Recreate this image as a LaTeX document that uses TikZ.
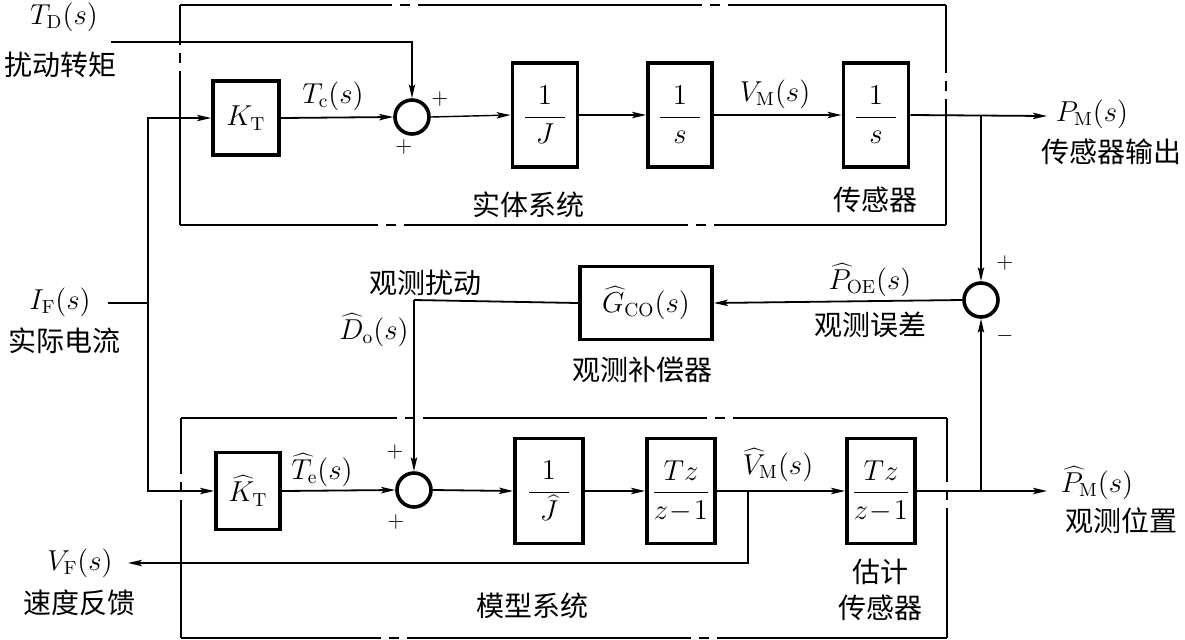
\documentclass[tikz,border=0pt]{standalone}
\usepackage{fontspec}
\newfontfamily\cjk{Noto Sans CJK SC}
\usetikzlibrary{arrows.meta}
\begin{document}
\begin{tikzpicture}[x=0.5pt,y=-0.5pt,
  every node/.style={font=\fontsize{13.5}{16}\selectfont, inner sep=0pt},
  zh/.style={font=\cjk\fontsize{14}{17}\selectfont},
  pm/.style={font=\fontsize{11}{13}\selectfont},
  blk/.style={draw, line width=1.9pt, minimum width=#1},
  conn/.style={line width=0.9pt},
  arr/.style={conn,-{Stealth[length=7pt,width=3.2pt,inset=1.5pt]}},
  sumc/.style={circle, draw, line width=1.8pt, minimum size=17pt, inner sep=0pt},
  dbox/.style={line width=1.1pt, dash pattern=on 142pt off 4pt on 5pt off 4pt},
]
\useasboundingbox (0,0) rectangle (1185,639);

% ---------- dashed enclosures ----------
\draw[dbox, dash phase=36pt]  (180,5) -- (946,5);
\draw[dbox, dash phase=43pt]  (180,225) -- (946,225);
\draw[dbox, dash phase=122pt] (180,5) -- (180,225);
\draw[dbox, dash phase=108pt] (946,5) -- (946,225);

\draw[dbox, dash phase=34pt]  (181,418) -- (947,418);
\draw[dbox, dash phase=42pt]  (181,638) -- (947,638);
\draw[dbox, dash phase=114pt] (181,418) -- (181,638);
\draw[dbox, dash phase=110pt] (947,418) -- (947,638);

% ---------- top row ----------
\node[blk=33pt, minimum height=37pt] (KT) at (246,118) {$K_{\mathrm{T}}$};
\node[sumc] (S1) at (412,117) {};
\node[blk=32.5pt, minimum height=52pt] (J) at (545,115) {$\displaystyle\frac{\makebox[20pt]{$1$}}{J}$};
\node[blk=32pt, minimum height=52pt] (I1) at (680,115) {$\displaystyle\frac{\makebox[20pt]{$1$}}{s}$};
\node[blk=32.5pt, minimum height=52pt] (SE) at (876,115) {$\displaystyle\frac{\makebox[20pt]{$1$}}{s}$};

% ---------- middle ----------
\node[sumc] (S2) at (981,300) {};
\node[blk=66pt, minimum height=36.5pt] (G) at (646,303) {$\widehat{G}_{\mathrm{CO}}(s)$};

% ---------- bottom row ----------
\node[blk=32pt, minimum height=38.5pt] (KTh) at (248,491) {$\widehat{K}_{\mathrm{T}}$};
\node[sumc] (S3) at (414,490) {};
\node[blk=34pt, minimum height=52.5pt] (Jh) at (549,491) {$\displaystyle\frac{\makebox[20pt]{$1$}}{\widehat{J}}$};
\node[blk=34pt, minimum height=52.5pt] (Z1) at (681,491) {$\displaystyle\frac{\makebox[26pt]{$Tz$}}{z\!-\!1}$};
\node[blk=34pt, minimum height=52.5pt] (Z2) at (881,491) {$\displaystyle\frac{\makebox[26pt]{$Tz$}}{z\!-\!1}$};

% ---------- coordinates ----------
\coordinate (TDin) at (111,42);
\coordinate (IFin) at (108,303);
\coordinate (jIF) at (148,303);
\coordinate (br1) at (981,116);
\coordinate (PMout) at (1047,116);
\coordinate (br2) at (981,491);
\coordinate (PMhout) at (1047,491);
\coordinate (br3) at (748,491);
\coordinate (VFout) at (128,563);
\coordinate (Dcorner) at (414,300);

% ---------- connectors ----------
\draw[arr, line width=0.7pt] (TDin) -| (S1.north);
\draw[conn] (IFin) -- (jIF);
\draw[arr] (jIF) |- (KT.west);
\draw[arr] (jIF) |- (KTh.west);
\draw[arr] (KT.east) -- (S1.west);
\draw[arr, line width=0.7pt] (S1.east) -- (J.west);
\draw[arr] (J.east) -- (I1.west);
\draw[arr] (I1.east) -- (SE.west);
\draw[arr] (SE.east) -- (PMout);
\draw[arr] (br1) -- (S2.north);
\draw[arr] (S2.west) -- (G.east);
\draw[conn] (G.west) -- (Dcorner);
\draw[arr] (Dcorner) -- (S3.north);
\draw[arr] (KTh.east) -- (S3.west);
\draw[arr] (S3.east) -- (Jh.west);
\draw[arr] (Jh.east) -- (Z1.west);
\draw[arr] (Z1.east) -- (Z2.west);
\draw[arr] (Z2.east) -- (PMhout);
\draw[arr, line width=0.7pt] (br2) -- (S2.south);
\draw[arr] (br3) |- (VFout);

% ---------- labels ----------
\node (lTD) at (64,17) {$T_{\mathrm{D}}(s)$};
\node[zh] (lTDz) at (60,65) {扰动转矩};
\node (lTc) at (333,96) {$T_{\mathrm{c}}(s)$};
\node[pm] (p1) at (440,99) {$+$};
\node[pm] (p2) at (404,147) {$+$};
\node (lVM) at (775,94) {$V_{\mathrm{M}}(s)$};
\node[zh] (lsys1) at (528,205) {实体系统};
\node[zh] (lsen1) at (875,200) {传感器};
\node (lPM) at (1092,114) {$P_{\mathrm{M}}(s)$};
\node[zh] (lPMz) at (1111,152) {传感器输出};
\node[pm] (p3) at (1005,263) {$+$};
\node[pm] (p4) at (1005,336) {$-$};
\node (lPOE) at (870,280) {$\widehat{P}_{\mathrm{OE}}(s)$};
\node[zh] (lPOEz) at (870,325) {观测误差};
\node[zh] (lGz) at (642,370) {观测补偿器};
\node[zh] (lDz) at (425,283) {观测扰动};
\node (lD) at (374,330) {$\widehat{D}_{\mathrm{o}}(s)$};
\node (lIF) at (60,302) {$I_{\mathrm{F}}(s)$};
\node[zh] (lIFz) at (65,341) {实际电流};
\node[pm] (p5) at (395,452) {$+$};
\node[pm] (p6) at (396,522) {$+$};
\node (lTe) at (322,470) {$\widehat{T}_{\mathrm{e}}(s)$};
\node (lVMh) at (778,465) {$\widehat{V}_{\mathrm{M}}(s)$};
\node (lVF) at (80,563) {$V_{\mathrm{F}}(s)$};
\node[zh] (lVFz) at (80,603) {速度反馈};
\node[zh] (lsys2) at (532,606) {模型系统};
\node[zh] (lest) at (880,572) {估计};
\node[zh] (lsen2) at (880,608) {传感器};
\node (lPMh) at (1097,483) {$\widehat{P}_{\mathrm{M}}(s)$};
\node[zh] (lPMhz) at (1121,521) {观测位置};
\end{tikzpicture}
\end{document}
